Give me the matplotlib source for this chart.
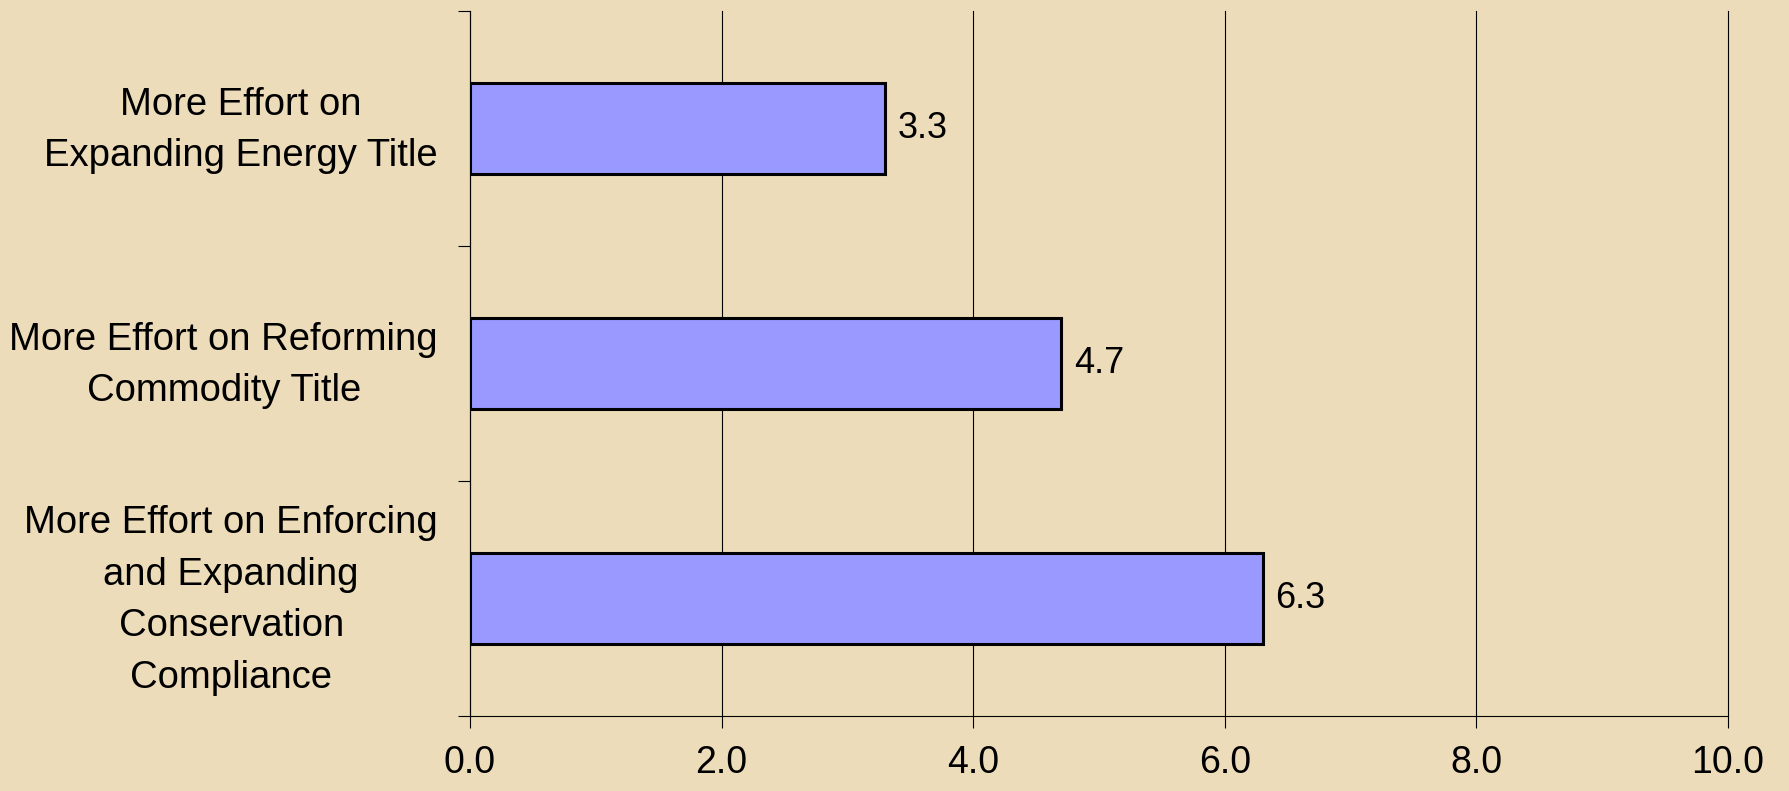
import matplotlib
matplotlib.use("Agg")
from matplotlib import pyplot as plt
from matplotlib import transforms

# chart data
categories = [
    "More Effort on\nExpanding Energy Title",
    "More Effort on Reforming\nCommodity Title",
    "More Effort on Enforcing\nand Expanding\nConservation\nCompliance",
]
values = [3.3, 4.7, 6.3]
x_ticks = [0, 2, 4, 6, 8, 10]
x_tick_labels = ["0.0", "2.0", "4.0", "6.0", "8.0", "10.0"]

bg = "#EDDCB9"
plt.rcParams["font.family"] = ["Liberation Sans", "DejaVu Sans"]

fig = plt.figure(figsize=(17.9, 7.91), dpi=100, facecolor=bg)
ax = fig.add_axes([470 / 1790, 1 - 716 / 791, (1728 - 470) / 1790, (716 - 11) / 791])
ax.set_facecolor(bg)

ypos = list(range(len(categories)))
ax.barh(ypos, values, height=0.39, color="#9999FF", edgecolor="black",
        linewidth=2.2, zorder=3)

for y, v in zip(ypos, values):
    ax.text(v + 0.1, y, f"{v:.1f}", va="center", ha="left", fontsize=26, zorder=4)

ax.set_xlim(0, 10)
ax.set_ylim(2.5, -0.5)

ax.set_xticks(x_ticks)
ax.set_xticklabels(x_tick_labels, fontsize=27)
ax.tick_params(axis="x", length=8.6, width=0.8, pad=12, direction="out")

ax.set_yticks(ypos)
ax.set_yticklabels(categories, fontsize=27.5, multialignment="center", linespacing=1.55)
ax.set_yticks([-0.5, 0.5, 1.5, 2.5], minor=True)
ax.tick_params(axis="y", which="major", length=0, pad=23)
ax.tick_params(axis="y", which="minor", length=8.6, width=0.8, direction="out")

# nudge category labels up a bit, the text block sits low otherwise
shift = transforms.ScaledTranslation(0, 7 / 72, fig.dpi_scale_trans)
for lab in ax.get_yticklabels():
    lab.set_transform(lab.get_transform() + shift)

ax.grid(axis="x", color="black", linewidth=0.8, zorder=1)
for gl in ax.xaxis.get_gridlines():
    gl.set_clip_on(False)
ax.set_axisbelow(True)
for side in ["top", "right"]:
    ax.spines[side].set_visible(False)
for side in ["left", "bottom"]:
    ax.spines[side].set_linewidth(0.8)

fig.savefig("out.png", dpi=100, facecolor=bg)
